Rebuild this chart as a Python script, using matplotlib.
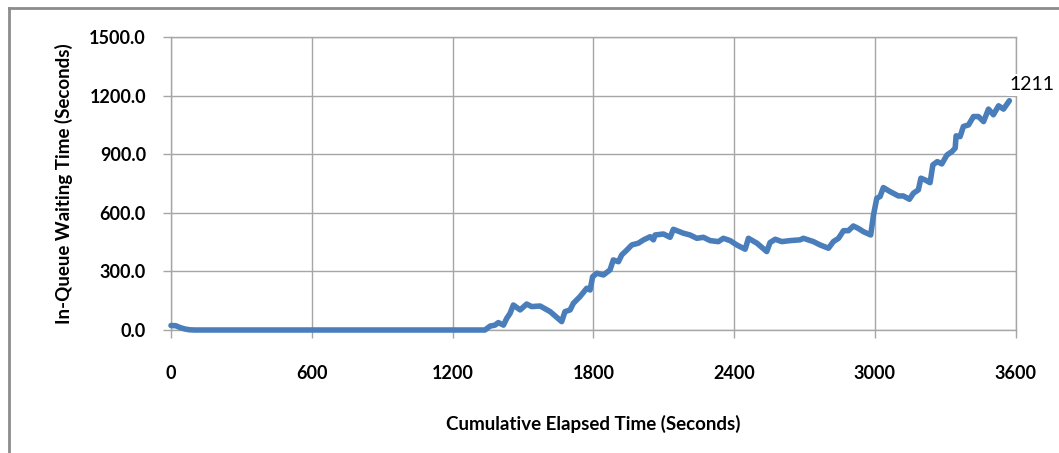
import matplotlib
matplotlib.use("Agg")
import matplotlib.pyplot as plt
from matplotlib.lines import Line2D

# Data
elapsed_s = [0, 20, 40, 60, 80, 100, 400, 800, 1200, 1338, 1360, 1381, 1395, 1417, 1431, 1445, 1459,
             1488, 1516, 1537, 1573, 1616, 1665, 1679, 1701, 1715, 1743, 1772, 1786, 1797,
             1815, 1843, 1871, 1885, 1907, 1921, 1943, 1964, 1992, 2014, 2042, 2056, 2063,
             2099, 2127, 2141, 2184, 2212, 2241, 2269, 2298, 2333, 2354, 2383, 2411, 2447,
             2461, 2497, 2539, 2553, 2575, 2603, 2638, 2681, 2695, 2738, 2766, 2802, 2823,
             2845, 2866, 2887, 2908, 2930, 2951, 2982, 2994, 3008, 3022, 3036, 3065, 3100,
             3121, 3147, 3164, 3185, 3196, 3214, 3235, 3247, 3266, 3285, 3307, 3328, 3342,
             3346, 3363, 3377, 3399, 3420, 3441, 3463, 3484, 3505, 3527, 3548, 3573]
waiting_s = [23, 22, 12, 5, 1, 0, 0, 0, 0, 0, 20, 25, 38, 25, 60, 85, 128,
             103, 133, 120, 123, 94, 43, 94, 103, 137, 171, 214, 205, 273,
             291, 282, 308, 359, 350, 385, 410, 436, 445, 462, 478, 462, 487,
             492, 475, 516, 496, 487, 470, 475, 458, 453, 470, 458, 436, 414,
             470, 445, 402, 448, 465, 453, 458, 462, 470, 453, 436, 419, 453,
             470, 509, 509, 533, 520, 504, 487, 590, 675, 684, 730, 709, 687,
             687, 670, 701, 718, 778, 769, 755, 846, 863, 851, 897, 914, 932,
             995, 991, 1043, 1051, 1094, 1094, 1068, 1132, 1103, 1149, 1132, 1175]
end_label = "1211"
x_ticks = [0, 600, 1200, 1800, 2400, 3000, 3600]
y_ticks = [0, 300, 600, 900, 1200, 1500]
y_tick_labels = ["0.0", "300.0", "600.0", "900.0", "1200.0", "1500.0"]

plt.rcParams['font.family'] = ['Lato', 'DejaVu Sans']

fig = plt.figure(figsize=(10.59, 4.53), dpi=100)
ax = fig.add_axes([171/1059, 1-330/453, (1015.7-171)/1059, (330-37.3)/453])

grid_c = "#a6a6a6"
ax.plot(elapsed_s, waiting_s, color="#4a7ebb", lw=4.0, solid_joinstyle="round",
        solid_capstyle="round", zorder=3, clip_on=False)

ax.set_xlim(0, 3600)
ax.set_ylim(0, 1500)
ax.set_xticks(x_ticks)
ax.set_yticks(y_ticks)
ax.set_yticklabels(y_tick_labels)
ax.grid(True, color=grid_c, lw=1.0)
ax.set_axisbelow(True)
for s in ax.spines.values():
    s.set_color(grid_c)
    s.set_linewidth(1.0)
ax.tick_params(axis='both', colors=grid_c, length=6, width=1.0, labelcolor="black",
               labelsize=13)
ax.tick_params(axis='x', pad=19)
ax.tick_params(axis='y', pad=12)
for lab in ax.get_xticklabels() + ax.get_yticklabels():
    lab.set_fontweight("bold")

ax.set_xlabel("Cumulative Elapsed Time (Seconds)", fontsize=13.5, fontweight="bold", labelpad=24)
ax.set_ylabel("In-Queue Waiting Time (Seconds)", fontsize=13.5, fontweight="bold", labelpad=12)

ax.annotate(end_label, xy=(elapsed_s[-1], waiting_s[-1]), xytext=(1032, 453 - 85),
            textcoords="figure pixels", fontsize=14, ha="center", va="center",
            bbox=dict(boxstyle="square,pad=0.15", fc="white", ec="none"), zorder=5)

# Outer chart border (left and top visible)
fig.add_artist(Line2D([9/1059, 9/1059], [0, 1-8/453], transform=fig.transFigure,
                      color="#8c8c8c", lw=2))
fig.add_artist(Line2D([9/1059, 1], [1-8/453, 1-8/453], transform=fig.transFigure,
                      color="#8c8c8c", lw=2))

fig.savefig("out.png", dpi=100)
